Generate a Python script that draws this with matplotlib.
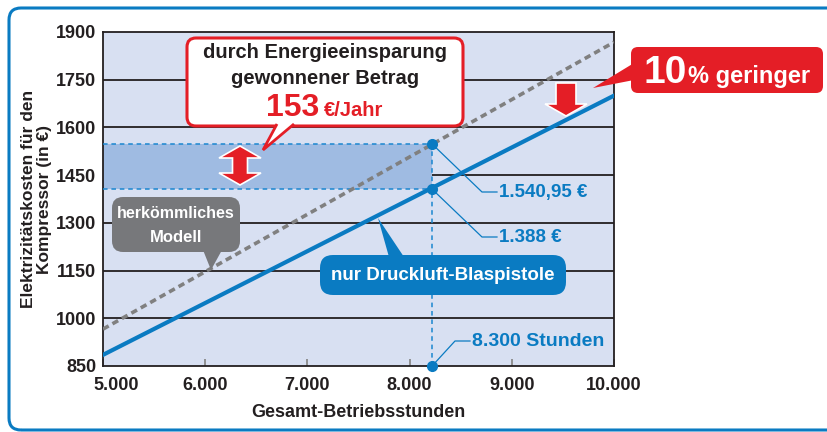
import matplotlib.pyplot as plt
import matplotlib.transforms as mtransforms
from matplotlib.patches import FancyBboxPatch, Polygon
from matplotlib.lines import Line2D

plt.rcParams['font.family'] = ['Liberation Sans', 'DejaVu Sans']
plt.rcParams['font.weight'] = 'bold'
plt.rcParams['axes.labelweight'] = 'bold'

# ---------------- data ----------------
hours = [5000, 10000]
cost_blaspistole = [885, 1700]      # nur Druckluft-Blaspistole
cost_herkoemmlich = [966, 1868]     # herkömmliches Modell
hours_mark = 8220                   # where the marked point sits in the chart
cost_mark_old = 1548
cost_mark_new = 1406
label_old = "1.540,95 €"
label_new = "1.388 €"
label_hours = "8.300 Stunden"
y_ticks = [850, 1000, 1150, 1300, 1450, 1600, 1750, 1900]
x_ticks = [5000, 6000, 7000, 8000, 9000, 10000]
x_ticklabels = ["5.000", "6.000", "7.000", "8.000", "9.000", "10.000"]

RED = '#e41e26'
BLUE = '#0a7bc2'
GREY = '#77787b'
DARK = '#231f20'

W, H = 827, 432
fig = plt.figure(figsize=(W / 100, H / 100), dpi=100)
fig.patch.set_facecolor('white')
T = fig.dpi_scale_trans


def P(x, y):
    # pixel position (from top-left) -> inches for dpi_scale_trans
    return (x / 100, (H - y) / 100)


ax = fig.add_axes([103 / W, 1 - 366 / H, (614 - 103) / W, (366 - 32) / H])
ax.set_facecolor('#d8e0f2')
ax.set_xlim(hours[0], hours[-1])
ax.set_ylim(y_ticks[0], y_ticks[-1])

for y in y_ticks[1:-1]:
    ax.axhline(y, color=DARK, lw=1.3, zorder=1)

# saved amount band
ax.fill_between([hours[0], hours_mark], cost_mark_new, cost_mark_old,
                color='#9fbbe2', lw=0, zorder=2)
dash = (0, (3, 2.5))
ax.plot([hours[0], hours_mark], [cost_mark_old] * 2, ls=dash, color='#1a86d0', lw=1.1, zorder=3)
ax.plot([hours[0], hours_mark], [cost_mark_new] * 2, ls=dash, color='#1a86d0', lw=1.1, zorder=3)
ax.plot([hours_mark] * 2, [y_ticks[0], cost_mark_old], ls=dash, color='#1a86d0', lw=1.1, zorder=3)

ax.plot(hours, cost_herkoemmlich, color='#808080', lw=2.6, ls=(0, (1.8, 1.2)), zorder=4)
ax.plot(hours, cost_blaspistole, color=BLUE, lw=3.0, zorder=5)
ax.plot([hours_mark] * 3, [cost_mark_old, cost_mark_new, y_ticks[0]], 'o',
        ms=7, color=BLUE, clip_on=False, zorder=6)

ax.set_yticks(y_ticks)
ax.set_xticks(x_ticks)
ax.set_xticklabels(x_ticklabels)
ax.tick_params(axis='x', direction='in', length=5, width=1.3, color='#8a8a8a',
               pad=8, labelsize=13, labelcolor=DARK)
ax.tick_params(axis='y', length=0, pad=5, labelsize=13, labelcolor=DARK)
# first x label is pushed right, away from the "850"
first = ax.get_xticklabels()[0]
first.set_transform(first.get_transform() +
                    mtransforms.ScaledTranslation(0.13, 0, fig.dpi_scale_trans))
for s in ax.spines.values():
    s.set_color(DARK)
    s.set_linewidth(1.3)

ax.set_xlabel("Gesamt-Betriebsstunden", fontsize=13, color=DARK)
ax.xaxis.set_label_coords(0.5, -0.115)
ax.set_ylabel("Elektrizitätskosten für den\nKompressor (in €)", fontsize=12.5,
              color=DARK, linespacing=1.1)
ax.yaxis.set_label_coords(-0.1, 0.5)

# ---------------- leader lines to the marked values ----------------
def to_px(xd, yd):
    dx, dy = ax.transData.transform((xd, yd))
    return dx, H - dy


for yv, (ex, ey, hx), txt in [(cost_mark_old, (482, 192, 497), label_old),
                              (cost_mark_new, (482, 237, 497), label_new)]:
    sx, sy = to_px(hours_mark, yv)
    pts = [P(sx, sy), P(ex, ey), P(hx, ey)]
    fig.add_artist(Line2D([p[0] for p in pts], [p[1] for p in pts], transform=T,
                          color=BLUE, lw=0.9, zorder=8))
    fig.text(*P(hx + 2, ey), txt, transform=T, color=BLUE, fontsize=13.5,
             ha='left', va='center', zorder=9)

sx, sy = to_px(hours_mark, y_ticks[0])
pts = [P(sx, sy), P(455, 341), P(470, 341)]
fig.add_artist(Line2D([p[0] for p in pts], [p[1] for p in pts], transform=T,
                      color=BLUE, lw=0.9, zorder=8))
fig.text(*P(472, 341), label_hours, transform=T, color=BLUE, fontsize=14,
         ha='left', va='center', zorder=9)


# ---------------- callout boxes ----------------
def rbox(x0, y0, x1, y1, r, fc, ec='none', lw=0, z=10):
    fig.add_artist(FancyBboxPatch(P(x0, y1), (x1 - x0) / 100, (y1 - y0) / 100,
                                  boxstyle=f'round,pad=0,rounding_size={r / 100}',
                                  transform=T, fc=fc, ec=ec, lw=lw, zorder=z))


def poly(pts, fc, ec='none', lw=0, closed=True, z=11):
    fig.add_artist(Polygon([P(*q) for q in pts], closed=closed, transform=T,
                           fc=fc, ec=ec, lw=lw, zorder=z, joinstyle='miter'))


# outer frame
rbox(9, 8, 860, 430, 12, 'none', ec=BLUE, lw=2.2, z=1)

# saving box
rbox(187, 38, 463, 126, 9, 'white', ec=RED, lw=2.2)
poly([(277, 124), (263, 150), (294, 124)], 'white', ec=RED, lw=2.0, closed=False)
fig.text(*P(325, 53), "durch Energieeinsparung", transform=T, fontsize=14.5,
         color=DARK, ha='center', va='center', zorder=12)
fig.text(*P(325, 78), "gewonnener Betrag", transform=T, fontsize=14.5,
         color=DARK, ha='center', va='center', zorder=12)
fig.text(*P(319, 116), "153", transform=T, fontsize=23, color=RED,
         ha='right', va='baseline', zorder=12)
fig.text(*P(324, 116), "€/Jahr", transform=T, fontsize=14.5, color=RED,
         ha='left', va='baseline', zorder=12)

# double arrow
cx, top, bot, hd, hw, sw = 240, 146, 185, 12, 21, 7.5
poly([(cx, top), (cx + hw, top + hd), (cx + sw, top + hd), (cx + sw, bot - hd),
      (cx + hw, bot - hd), (cx, bot), (cx - hw, bot - hd), (cx - sw, bot - hd),
      (cx - sw, top + hd), (cx - hw, top + hd)], RED, ec='white', lw=1.2)

# 10 % box
rbox(631, 47, 823, 93, 7, RED)
poly([(634, 63), (593, 88), (634, 80)], RED)
fig.text(*P(643, 83), "10", transform=T, fontsize=28, color='white',
         ha='left', va='baseline', zorder=12)
fig.text(*P(688, 83), "% geringer", transform=T, fontsize=17, color='white',
         ha='left', va='baseline', zorder=12)

# down arrow
cx, top, hs, tip, hw, sw = 566, 83, 104, 116, 21, 10
poly([(cx - sw, top), (cx + sw, top), (cx + sw, hs), (cx + hw, hs), (cx, tip),
      (cx - hw, hs), (cx - sw, hs)], RED, ec='white', lw=1.2)

# grey box
rbox(112, 197, 240, 252, 11, GREY)
poly([(203, 250), (211, 270), (222, 250)], GREY)
fig.text(*P(176, 214), "herkömmliches", transform=T, fontsize=11.5, color='white',
         ha='center', va='center', zorder=12)
fig.text(*P(176, 238), "Modell", transform=T, fontsize=12, color='white',
         ha='center', va='center', zorder=12)

# blue box
rbox(320, 255, 566, 295, 13, BLUE)
poly([(389, 257), (378, 218), (404, 257)], BLUE)
fig.text(*P(443, 275), "nur Druckluft-Blaspistole", transform=T, fontsize=13.5,
         color='white', ha='center', va='center', zorder=12)

fig.savefig('out.png', dpi=100)
